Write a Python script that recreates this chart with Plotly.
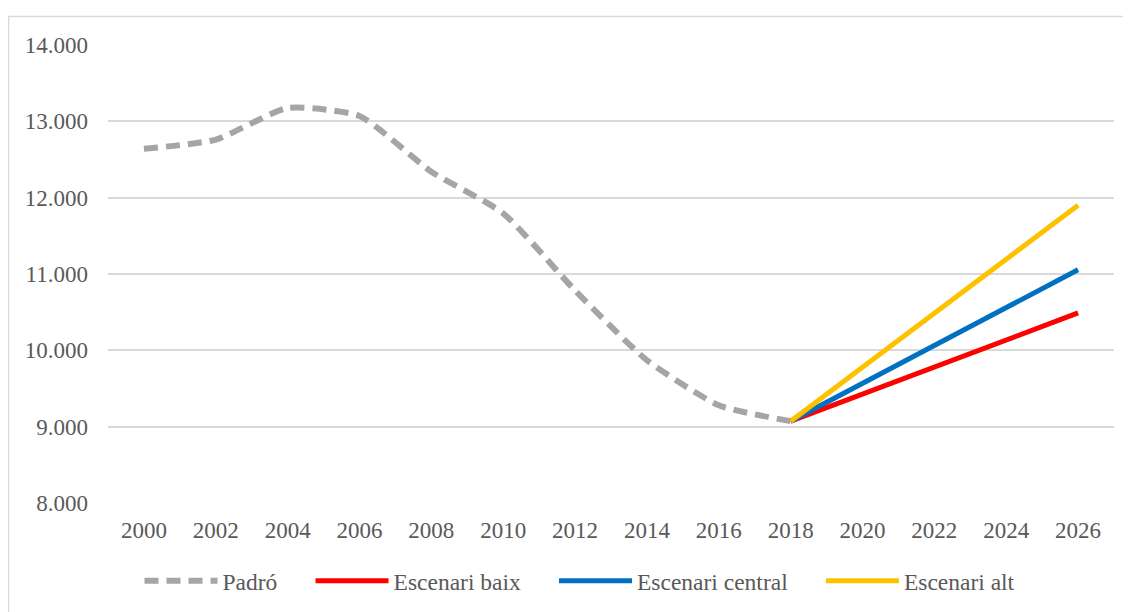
import plotly.graph_objects as go

years_padro = [2000, 2002, 2004, 2006, 2008, 2010, 2012, 2014, 2016, 2018]
padro = [12640, 12760, 13175, 13070, 12340, 11795, 10785, 9870, 9280, 9072]

years_scen = [2018, 2026]
esc_baix = [9072, 10490]
esc_central = [9072, 11055]
esc_alt = [9072, 11900]

tick_years = list(range(2000, 2027, 2))
y_ticks = [8000, 9000, 10000, 11000, 12000, 13000, 14000]

FONT = "Liberation Serif"
TXT = "#595959"
PAD = "\u00a0" * 4 + "\u2009"  # spacing between legend entries

# page body has an 8px margin, so figure px = screen px - 8
OFF = 8
W, H = 1131, 612
ML, MT = 108 - OFF, 45 - OFF
MR = W - (1114 - OFF)
MB = H - (503 - OFF)
pw, ph = W - ML - MR, H - MT - MB

def px_x(p):
    return (p - OFF - ML) / pw

def px_y(p):
    return (H - MB - (p - OFF)) / ph

fig = go.Figure()
fig.add_trace(go.Scatter(x=years_padro, y=padro, name="Padró" + PAD, mode="lines",
                         line=dict(color="#A5A5A5", width=6, dash="14px,8px",
                                   shape="spline", smoothing=0.55)))
fig.add_trace(go.Scatter(x=years_scen, y=esc_baix, name="Escenari baix" + PAD, mode="lines",
                         line=dict(color="#FF0000", width=5)))
fig.add_trace(go.Scatter(x=years_scen, y=esc_central, name="Escenari central" + PAD, mode="lines",
                         line=dict(color="#0070C0", width=5)))
fig.add_trace(go.Scatter(x=years_scen, y=esc_alt, name="Escenari alt", mode="lines",
                         line=dict(color="#FFC000", width=5)))

fig.update_layout(
    width=W, height=H,
    margin=dict(l=ML, r=MR, t=MT, b=MB),
    paper_bgcolor="white", plot_bgcolor="white",
    separators=",.",
    font=dict(family=FONT, size=23, color=TXT),
    showlegend=True,
    legend=dict(orientation="h", x=px_x(580), xanchor="center",
                y=px_y(581), yanchor="middle",
                font=dict(family=FONT, size=23.5, color=TXT),
                itemwidth=73, bgcolor="rgba(0,0,0,0)"),
    xaxis=dict(range=[1999, 2027], tickmode="array", tickvals=tick_years,
               ticktext=[str(y) for y in tick_years], showgrid=False,
               zeroline=False, showline=False, ticks="",
               ticklabelstandoff=11, fixedrange=True),
    yaxis=dict(range=[8000, 14000], tickmode="array", tickvals=y_ticks,
               tickformat=",d", showgrid=True, gridcolor="#D9D9D9", gridwidth=1.5,
               zeroline=False, showline=False, ticks="",
               ticklabelstandoff=19, fixedrange=True),
    shapes=[
        dict(type="line", xref="paper", yref="paper",
             x0=px_x(8), x1=px_x(1140), y0=px_y(16.5), y1=px_y(16.5),
             line=dict(color="#D9D9D9", width=1.5)),
        dict(type="line", xref="paper", yref="paper",
             x0=px_x(8.5), x1=px_x(8.5), y0=px_y(16.5), y1=px_y(620),
             line=dict(color="#D9D9D9", width=1.5)),
    ],
)

fig.write_html("out.html")
